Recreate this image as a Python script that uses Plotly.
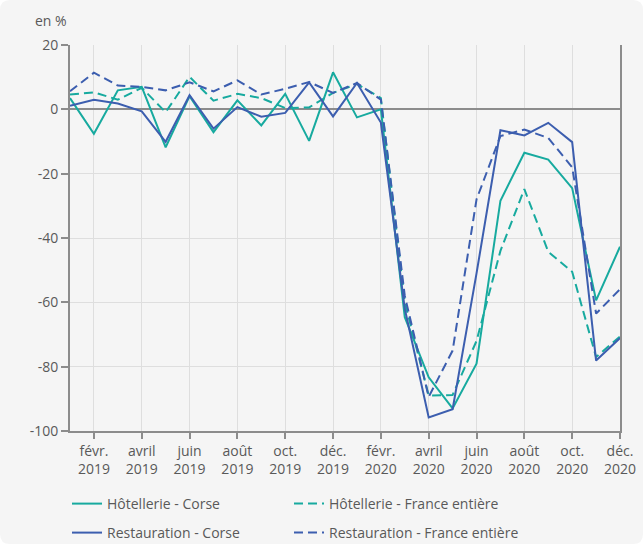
import plotly.graph_objects as go

# Monthly change vs. same month of the previous year, in %
months = [f"{y}-{m:02d}" for y in (2019, 2020) for m in range(1, 13)]

hotellerie_corse = [3.5, -7.6, 5.9, 7.0, -11.8, 4.1, -7.1, 2.8, -5.0, 4.8, -9.8, 11.5,
                    -2.5, 0.0, -64.6, -83.3, -93.0, -79.1, -28.4, -13.5, -15.6, -24.5, -59.4, -42.7]
hotellerie_france = [4.6, 5.3, 3.0, 6.7, -0.9, 10.1, 2.7, 4.8, 3.5, 0.4, 0.6, 5.1,
                     7.9, 3.5, -60.0, -89.0, -88.8, -72.0, -44.0, -24.8, -44.3, -50.5, -77.0, -70.6]
restauration_corse = [1.1, 3.0, 1.8, -0.6, -10.1, 4.4, -6.0, 0.7, -2.3, -1.1, 8.4, -2.2,
                      8.2, -4.1, -62.0, -95.8, -93.2, -51.0, -6.5, -8.1, -4.2, -10.2, -78.1, -71.1]
restauration_france = [5.6, 11.4, 7.4, 7.0, 5.9, 8.4, 5.6, 9.0, 4.6, 6.4, 8.5, 5.1,
                       8.2, 3.0, -58.0, -89.4, -75.0, -28.0, -8.3, -6.3, -8.9, -18.0, -63.5, -55.9]

tick_months = months[1::2]
tick_labels = ["févr.<br>2019", "avril<br>2019", "juin<br>2019", "août<br>2019", "oct.<br>2019",
               "déc.<br>2019", "févr.<br>2020", "avril<br>2020", "juin<br>2020", "août<br>2020",
               "oct.<br>2020", "déc.<br>2020"]
y_ticks = [-100, -80, -60, -40, -20, 0, 20]
y_tick_labels = ["-100", "-80", "-60", "-40", "-20", "0", "20"]

TEAL = "#17aa9f"
BLUE = "#3c5eaf"
TEXT = "#595959"
DASH = "9px,5px"
FS = 14

# name, values, colour, dash, legend, legend entry width
series = [
    ("Hôtellerie - Corse", hotellerie_corse, TEAL, "solid", "legend", 177),
    ("Hôtellerie - France entière", hotellerie_france, TEAL, DASH, "legend", 240),
    ("Restauration - Corse", restauration_corse, BLUE, "solid", "legend2", 177),
    ("Restauration - France entière", restauration_france, BLUE, DASH, "legend2", 240),
]

fig = go.Figure()
for name, values, color, dash, leg, lw in series:
    fig.add_trace(go.Scatter(
        x=months, y=values, name=name, mode="lines",
        line=dict(color=color, width=2, dash=dash),
        legend=leg, legendwidth=lw,
    ))

# Plot area in pixels: left 70, right 620, top 45, bottom 431
L, R, T, B = 70, 23, 45, 113
W, H = 643, 544
pw, ph = W - L - R, H - T - B


def px_x(p):
    return (p - L) / pw


def px_y(p):
    return (H - B - p) / ph


# Rounded light-grey card behind the whole chart
r = 10
x0, x1 = px_x(0), px_x(W)
y0, y1 = px_y(H), px_y(0)
rx, ry = r / pw, r / ph
card = (f"M {x0 + rx},{y1} L {x1 - rx},{y1} Q {x1},{y1} {x1},{y1 - ry} "
        f"L {x1},{y0 + ry} Q {x1},{y0} {x1 - rx},{y0} "
        f"L {x0 + rx},{y0} Q {x0},{y0} {x0},{y0 + ry} "
        f"L {x0},{y1 - ry} Q {x0},{y1} {x0 + rx},{y1} Z")

legend_common = dict(
    orientation="h", xanchor="left", yanchor="top",
    font=dict(family="Open Sans", size=FS, color=TEXT),
    bgcolor="rgba(0,0,0,0)", tracegroupgap=0, itemclick=False,
)

fig.update_layout(
    width=W, height=H,
    margin=dict(l=L, r=R, t=T, b=B, autoexpand=False),
    paper_bgcolor="white",
    plot_bgcolor="rgba(0,0,0,0)",
    font=dict(family="Open Sans", size=FS, color=TEXT),
    shapes=[dict(type="path", path=card, xref="paper", yref="paper",
                 fillcolor="#f5f5f5", line=dict(width=0), layer="below")],
    legend=dict(x=px_x(67), y=px_y(488), **legend_common),
    legend2=dict(x=px_x(67), y=px_y(517), **legend_common),
    annotations=[dict(text="en %", xref="paper", yref="paper",
                      x=px_x(33), y=px_y(9), xanchor="left", yanchor="top",
                      showarrow=False, font=dict(size=FS, color=TEXT))],
)

fig.update_xaxes(
    type="category", categoryorder="array", categoryarray=months,
    range=[0, len(months) - 1],
    tickmode="array", tickvals=tick_months, ticktext=tick_labels,
    showgrid=True, gridcolor="#dedede", gridwidth=1,
    showline=True, linecolor="#8c8c8c", linewidth=1.5,
    ticks="outside", ticklen=6, tickcolor="#8c8c8c", tickwidth=1.5,
    tickfont=dict(size=FS, color=TEXT),
    zeroline=False,
)
fig.update_yaxes(
    range=[-100, 20], tickmode="array", tickvals=y_ticks, ticktext=y_tick_labels,
    showgrid=True, gridcolor="#dedede", gridwidth=1,
    showline=True, linecolor="#8c8c8c", linewidth=2, mirror=True,
    ticks="outside", ticklen=7, tickcolor="#8c8c8c", tickwidth=1.5,
    tickfont=dict(size=FS, color=TEXT),
    zeroline=True, zerolinecolor="#8c8c8c", zerolinewidth=2,
)

fig.write_html("out.html")
